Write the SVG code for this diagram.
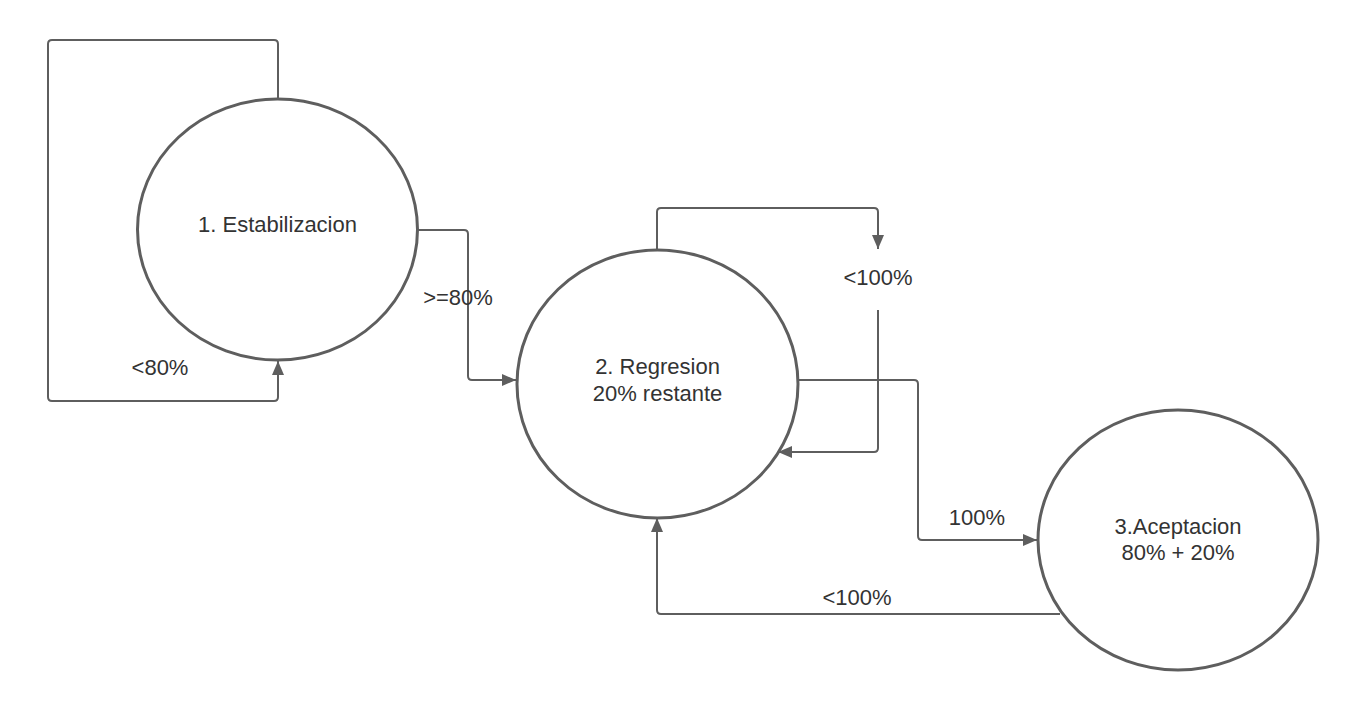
<svg xmlns="http://www.w3.org/2000/svg" width="1358" height="710" viewBox="0 0 1358 710">
<style>
.node{fill:#fff;stroke:#5e5e5e;stroke-width:3}
.edge{fill:none;stroke:#5e5e5e;stroke-width:2;stroke-linejoin:round}
text{font-family:"Liberation Sans",Arial,sans-serif;font-size:22px;fill:#333;text-anchor:middle}
</style>
<defs>
<marker id="arr" viewBox="0 0 14 12" refX="14" refY="6" markerWidth="14" markerHeight="12" markerUnits="userSpaceOnUse" orient="auto">
<path d="M0,0 L14,6 L0,12 Z" fill="#5e5e5e"/>
</marker>
</defs>
<rect width="1358" height="710" fill="#fff"/>
<g id="connectors">
<path class="edge" d="M278,99 V44 Q278,40 274,40 H52 Q48,40 48,44 V397 Q48,401 52,401 H274 Q278,401 278,397 V361" marker-end="url(#arr)"/>
<path class="edge" d="M418,230 H464 Q468,230 468,234 V376 Q468,380 472,380 H516" marker-end="url(#arr)"/>
<path class="edge" d="M657,250 V212 Q657,208 661,208 H874 Q878,208 878,212 V249" marker-end="url(#arr)"/>
<path class="edge" d="M878,310 V448 Q878,452 874,452 H778" marker-end="url(#arr)"/>
<path class="edge" d="M798,380 H914 Q918,380 918,384 V536 Q918,540 922,540 H1037" marker-end="url(#arr)"/>
<path class="edge" d="M1060,614 H661 Q657,614 657,610 V518" marker-end="url(#arr)"/>
<text x="160" y="375">&lt;80%</text>
<text x="458" y="305">&gt;=80%</text>
<text x="878" y="285">&lt;100%</text>
<text x="977" y="525">100%</text>
<text x="857" y="605">&lt;100%</text>
</g>
<g id="node1">
<ellipse class="node" cx="277.5" cy="229.5" rx="140" ry="130.5"/>
<text x="277.5" y="232">1. Estabilizacion</text>
</g>
<g id="node2">
<ellipse class="node" cx="657.5" cy="384" rx="140.5" ry="134"/>
<text x="657.5" y="374">2. Regresion</text>
<text x="657.5" y="401">20% restante</text>
</g>
<g id="node3">
<ellipse class="node" cx="1178" cy="540" rx="140" ry="130"/>
<text x="1178" y="534">3.Aceptacion</text>
<text x="1178" y="560">80% + 20%</text>
</g>
</svg>
